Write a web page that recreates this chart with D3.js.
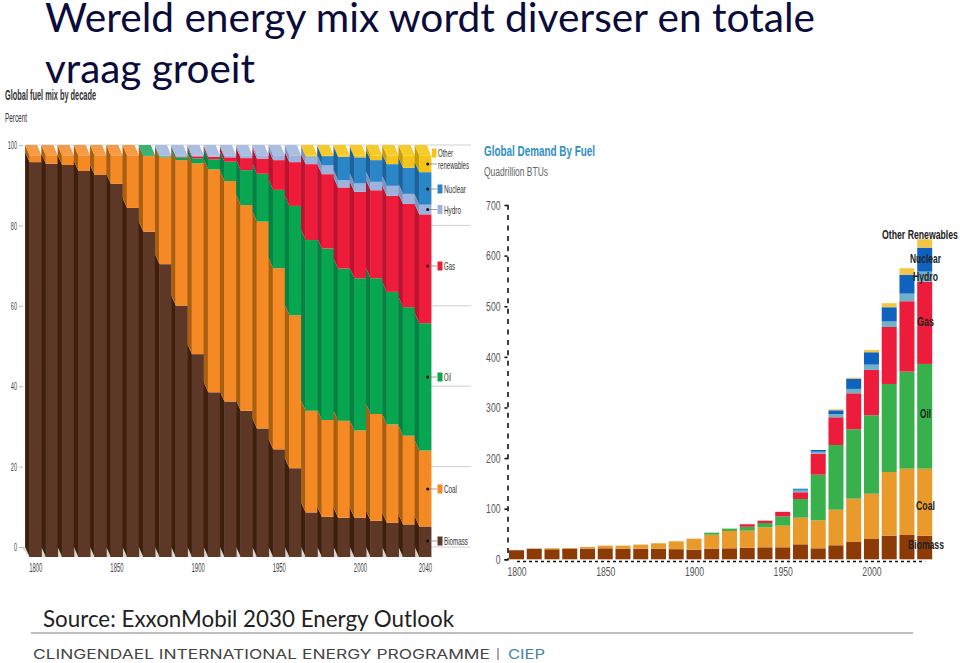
<!DOCTYPE html>
<html><head><meta charset="utf-8">
<script src="https://cdnjs.cloudflare.com/ajax/libs/d3/7.8.5/d3.min.js"></script>
<style>html,body{margin:0;background:#fff}svg{display:block}</style></head>
<body><svg id="c" width="960" height="663"></svg>
<script>
// Left chart: share of global fuel mix by decade, percent
const mixYears = d3.range(1800, 2041, 10);
const mixKeys = ["biomass","coal","oil","gas","hydro","nuclear","other"];
const mixBiomass = [98.3,97.9,97.6,96.1,95.1,92.9,86.9,81.0,72.9,62.6,50.5,41.0,38.7,36.4,32.0,26.8,22.1,11.1,10.0,9.8,9.8,9.0,8.5,8.1,7.6];
const mixCoal = [1.7,2.1,2.4,3.9,4.9,7.1,13.1,18.8,26.6,36.2,47.5,55.5,54.9,51.2,51.5,45.1,38.1,25.3,24.1,24.1,21.7,26.6,24.5,22.1,18.9];
const mixOil = [0,0,0,0,0,0,0,0.2,0.25,0.7,1.25,2.5,4.8,8.7,11.9,19.5,27.2,42.5,42.7,37.9,37.9,33.8,33.0,32.0,31.7];
const mixGas = [0,0,0,0,0,0,0,0,0,0.2,0.5,0.65,1.1,3.0,3.8,7.4,10.9,18.9,18.5,20.2,21.5,21.9,23.9,25.7,27.1];
const mixHydro = [0,0,0,0,0,0,0,0,0.25,0.3,0.25,0.35,0.5,0.7,0.8,1.2,1.7,1.7,2.2,1.8,2.1,2.1,2.5,2.5,2.4];
const mixNuclear = [0,0,0,0,0,0,0,0,0,0,0,0,0,0,0,0,0,0.2,2.3,5.85,6.5,5.4,5.4,6.5,8.1];
const mixOther = [0,0,0,0,0,0,0,0,0,0,0,0,0,0,0,0,0,0.3,0.2,0.35,0.5,1.2,2.2,3.1,4.2];
const mixTicks = [0,20,40,60,80,100];
const mixYearTicks = [1800,1850,1900,1950,2000,2040];
const mixLegend = [["Other",null],["Nuclear","nuclear"],["Hydro","hydro"],["Gas","gas"],["Oil","oil"],["Coal","coal"],["Biomass","biomass"]];
const mixLegendWidths = {Nuclear:22,Hydro:17,Gas:11,Oil:7,Coal:13,Biomass:24};

// Right chart: global demand by fuel, quadrillion BTUs
const demandYears = d3.range(1800, 2031, 10);
const demandBiomass = [18,21,19.8,21,21,21.7,21,21,21,20,19,21,21.7,23,23.7,23.7,29.6,21.7,27.7,34.2,40.1,46.6,48,46.6];
const demandCoal = [0.4,0,2,1.3,3.3,5.3,6,8,10.6,15.6,21.7,27.6,34.3,33.5,39.5,42.7,52.6,55.3,70.3,85.6,89.5,125.9,131,132.4];
const demandOil = [0,0,0,0,0,0,0,0,0,0,0,4,4.6,7.9,8.5,18.4,37,90.2,127.9,137.1,155,173.9,191.8,207];
const demandGas = [0,0,0,0,0,0,0,0,0,0,0,0,0,4.8,4.6,9,13.2,41.5,54.7,71.1,89.5,112.6,139.1,162.6];
const demandHydro = [0,0,0,0,0,0,0,0,0,0,0,0,0,0,0,0,5,3.9,6.4,8.6,10.5,11,15,19.8];
const demandNuclear = [0,0,0,0,0,0,0,0,0,0,0,0,0,0,0,0,2,3.4,7.4,20.3,24.5,28,37.5,47.4];
const demandOther = [0,0,0,0,0,0,0,0,0,0,0,0,0,0,0,0,0,0,2,2,4.6,8,12.6,16.6];
const demandTicks = [0,100,200,300,400,500,600,700];
const demandYearTicks = [1800,1850,1900,1950,2000];
const demandLabels = [["Other Renewables",882,236,76],["Nuclear",910,260,31],["Hydro",913,278,25],["Gas",917,323,17],["Oil",920,415,11],["Coal",916,507,19],["Biomass",908,546,36]];

const front = {biomass:"#5e3827",coal:"#f58a25",oil:"#08a651",gas:"#ee1c3a",hydro:"#9db3de",nuclear:"#2b86c8",other:"#f4c518"};
const side  = {biomass:"#3e1f0b",coal:"#a95f12",oil:"#078142",gas:"#b9152e",hydro:"#7f93bf",nuclear:"#1e6299",other:"#c39c10"};
const topF  = {biomass:"#7a5240",coal:"#f79a45",oil:"#3bb176",gas:"#ee1c3a",hydro:"#abbde1",nuclear:"#2b86c8",other:"#f5cb2c"};
const demandColor = {biomass:"#8c3a06",coal:"#e99a2a",oil:"#38b04b",gas:"#ed1c3a",hydro:"#6fb1c9",nuclear:"#0f62be",other:"#f6c544"};
const narrow = "'Liberation Sans',sans-serif";
const svg = d3.select("#c");

const text = (s,x,y,o={}) => svg.append("text").attr("x",x).attr("y",y).text(s)
  .attr("font-family",o.f||narrow).attr("font-size",o.s||11).attr("fill",o.c||"#333")
  .attr("font-weight",o.w||"normal").attr("text-anchor",o.a||"start")
  .attr("dominant-baseline",o.b||"auto")
  .call(t=>{ if(o.len) t.attr("textLength",o.len).attr("lengthAdjust",o.adj||"spacingAndGlyphs"); });
// condense axis labels the way the reference's narrow type looks
const condense = (sel,perChar) => sel.each(function(){
  const t=d3.select(this); t.attr("textLength",t.text().length*perChar).attr("lengthAdjust","spacingAndGlyphs");
});
// horizontally scaled label, so its box really is the wanted width
const scaledText = (s,x,y,w,o={}) => {
  const t = svg.append("text").text(s).attr("font-family",narrow).attr("font-size",o.s||12)
    .attr("font-weight",o.w||"normal").attr("fill",o.c||"#222").attr("dominant-baseline","middle");
  const n = t.node().getComputedTextLength();
  t.attr("transform",`translate(${x},${y}) scale(${w/n},1)`);
};

// ---------- Page text
text("Wereld energy mix wordt diverser en totale",45,32,{f:"Lato",s:41,c:"#0c0c3c",len:770});
text("vraag groeit",45,83,{f:"Lato",s:41,c:"#0c0c3c",len:210});
text("Source: ExxonMobil 2030 Energy Outlook",43,627,{f:"Lato",s:24,c:"#222",len:411});
svg.append("line").attr("x1",31).attr("x2",913).attr("y1",633).attr("y2",633).attr("stroke","#a8a8a8").attr("stroke-width",1.3);
text("CLINGENDAEL INTERNATIONAL ENERGY PROGRAMME",33,659,{f:"Inter",s:13,c:"#444",len:457});
svg.append("line").attr("x1",498).attr("x2",498).attr("y1",648).attr("y2",660).attr("stroke","#555");
text("CIEP",508,659,{f:"Inter",s:13,c:"#3f85a5",len:37});

// ---------- Left chart
const depthX = 4.2, depthY = 10.2, faceW = 12.04, seam = 0.5;
const xMix = d3.scaleLinear().domain([1800,2040]).range([35.3,424.9]);
const yMix = d3.scaleLinear().domain([0,100]).range([557,155.3]);
const yMixBack = d3.scaleLinear().domain([0,100]).range([547,145]);
const mixRows = mixYears.map((y,i)=>({year:y,biomass:mixBiomass[i],coal:mixCoal[i],oil:mixOil[i],gas:mixGas[i],hydro:mixHydro[i],nuclear:mixNuclear[i],other:mixOther[i]}));
const mixStack = d3.stack().keys(mixKeys)(mixRows);

text("Global fuel mix by decade",5,100,{s:15,w:"bold",c:"#333",len:91});
text("Percent",5,122,{s:12,c:"#333",len:22});

// legend gridlines
svg.append("g").selectAll("line").data(mixTicks).join("line")
  .attr("x1",431).attr("x2",471).attr("y1",d=>yMixBack(d)).attr("y2",d=>yMixBack(d))
  .attr("stroke","#cfcfcf");
// top rim and floor
svg.append("line").attr("x1",25).attr("x2",431).attr("y1",145).attr("y2",145).attr("stroke","#d8d8d8");
svg.append("path").attr("fill","#d6d6d6")
  .attr("d",`M${xMix(1800)-6-depthX-4},${yMix(0)-depthY}L${xMix(2040)+6},${yMix(0)-depthY}L${xMix(2040)+6},${yMix(0)}L${xMix(1800)-6},${yMix(0)}Z`);

// axis
const axL = d3.axisLeft(yMixBack).tickValues(mixTicks).tickSize(4).tickPadding(2);
svg.append("g").attr("transform","translate(23,0)").call(axL)
  .call(g=>g.select(".domain").remove())
  .call(g=>g.selectAll("line").attr("stroke","#bbb"))
  .call(g=>g.selectAll("text").attr("font-family",narrow).attr("font-size",11.5).attr("fill","#444").call(condense,3.1));
const axB = d3.axisBottom(xMix).tickValues(mixYearTicks).tickFormat(d3.format("d")).tickSize(0);
svg.append("g").attr("transform","translate(0,560)").call(axB)
  .call(g=>g.select(".domain").remove())
  .call(g=>g.selectAll("text").attr("font-family",narrow).attr("font-size",12).attr("fill","#444").call(condense,3.3));

// 3D columns
const barsL = svg.append("g");
mixRows.forEach((r,i)=>{
  const x0 = xMix(r.year)-faceW/2, xb = x0-depthX;
  mixStack.forEach(s=>{
    const [a,b] = s[i]; if(b-a<=0) return;
    const y0 = yMix(a), y1 = yMix(b);
    barsL.append("path").attr("fill",side[s.key])
      .attr("d",`M${xb},${y1-depthY}L${x0+seam},${y1}L${x0+seam},${y0}L${xb},${y0-depthY}Z`);
    barsL.append("rect").attr("x",x0).attr("width",faceW+seam).attr("y",y1).attr("height",y0-y1).attr("fill",front[s.key]);
  });
  const topKey = mixStack.filter(s=>s[i][1]-s[i][0]>0).pop().key;
  barsL.append("path").attr("fill",topF[topKey])
    .attr("d",`M${xb},${yMix(100)-depthY}L${xb+faceW},${yMix(100)-depthY}L${x0+faceW},${yMix(100)}L${x0},${yMix(100)}Z`);
});

// legend of left chart
const legendY = {Other:153,Nuclear:189,Hydro:209.5,Gas:266,Oil:377,Coal:489,Biomass:541};
const legendG = svg.append("g");
mixLegend.forEach(([name,key])=>{
  const y = legendY[name], k = key||"other";
  legendG.append("circle").attr("cx",427.7).attr("cy",y+(key?0:11)).attr("r",1.5).attr("fill","#111");
  legendG.append("line").attr("x1",429).attr("x2",437).attr("y1",y+(key?0:11)).attr("y2",y+(key?0:11)).attr("stroke","#777").attr("stroke-width",.7);
  legendG.append("rect").attr("x",name==="Other"?432:437.5).attr("y",y-4.5).attr("width",name==="Other"?4.5:5).attr("height",9).attr("fill",front[k]);
});
text("Other",438,157,{s:11,len:15});
text("renewables",438,169,{s:11,len:31});
[["Nuclear",189],["Hydro",209.5],["Gas",266],["Oil",377],["Coal",489],["Biomass",541]].forEach(([n,y])=>
  text(n,444,y+4,{s:11,len:mixLegendWidths[n]}));

// ---------- Right chart
const xDem = d3.scaleLinear().domain([1800,2030]).range([516.5,924.7]);
const yDem = d3.scaleLinear().domain([0,700]).range([559.3,205]);
const demRows = demandYears.map((y,i)=>({year:y,biomass:demandBiomass[i],coal:demandCoal[i],oil:demandOil[i],gas:demandGas[i],hydro:demandHydro[i],nuclear:demandNuclear[i],other:demandOther[i]}));
const demStack = d3.stack().keys(mixKeys)(demRows);

text("Global Demand By Fuel",484,156,{s:14.5,w:"bold",c:"#2f8fc1",len:111});
text("Quadrillion BTUs",484,176,{s:12.5,c:"#666",len:64});

svg.append("g").selectAll("g").data(demStack).join("g").attr("fill",d=>demandColor[d.key])
  .selectAll("rect").data(d=>d).join("rect")
  .attr("x",d=>xDem(d.data.year)-7.5).attr("width",15)
  .attr("y",d=>yDem(d[1])).attr("height",d=>Math.max(0,yDem(d[0])-yDem(d[1])));

const axDL = d3.axisLeft(yDem).tickValues(demandTicks).tickSize(3).tickPadding(4);
svg.append("g").attr("transform","translate(507.5,0)").call(axDL)
  .call(g=>g.select(".domain").attr("stroke","#111").attr("stroke-width",1.6).attr("stroke-dasharray","5,5.4"))
  .call(g=>g.selectAll("line").attr("stroke","#111").attr("stroke-width",1.6))
  .call(g=>g.selectAll("text").attr("font-family",narrow).attr("font-size",13).attr("fill","#555").call(condense,4.8));
const axDB = d3.axisBottom(xDem).tickValues(demandYearTicks).tickFormat(d3.format("d")).tickSize(0).tickPadding(6);
svg.append("g").attr("transform","translate(0,561)").call(axDB)
  .call(g=>g.select(".domain").attr("stroke","#111").attr("stroke-width",1.6).attr("stroke-dasharray","3,3"))
  .call(g=>g.selectAll("text").attr("font-family",narrow).attr("font-size",13).attr("fill","#555").call(condense,4.8));

demandLabels.forEach(([n,x,y,w])=>scaledText(n,x,y,w,{s:12.5,w:"bold",c:"#222"}));
</script></body></html>
